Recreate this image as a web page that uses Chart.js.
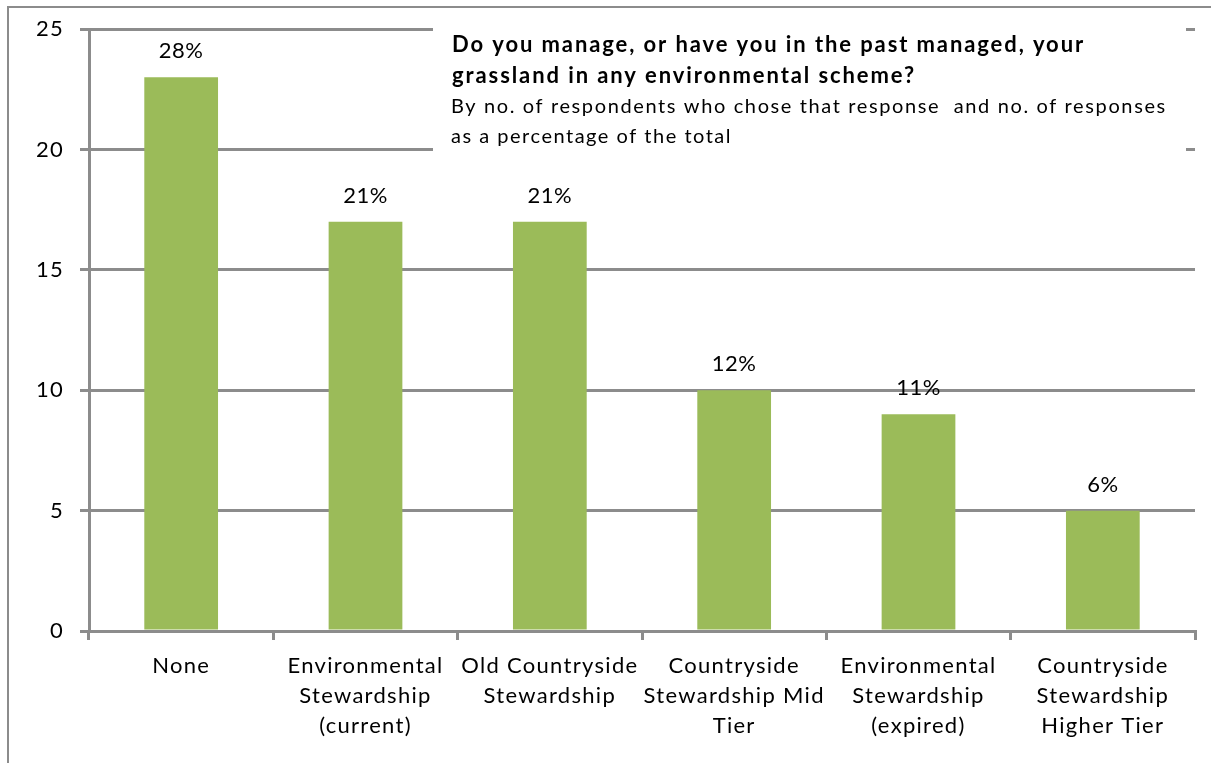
<!DOCTYPE html>
<html>
<head>
<meta charset="utf-8">
<script src="https://cdn.jsdelivr.net/npm/chart.js@4/dist/chart.umd.min.js"></script>
<style>
  body { margin: 0; background: #fff; }
  canvas { display: block; }
</style>
</head>
<body>
<canvas id="schemeChart" width="1211" height="763"></canvas>
<script>
  // chart data
  var categories = [
    ['None'],
    ['Environmental', 'Stewardship', '(current)'],
    ['Old Countryside', 'Stewardship'],
    ['Countryside', 'Stewardship Mid', 'Tier'],
    ['Environmental', 'Stewardship', '(expired)'],
    ['Countryside', 'Stewardship', 'Higher Tier']
  ];
  var respondents = [23, 17, 17, 10, 9, 5];
  var percentLabels = ['28%', '21%', '21%', '12%', '11%', '6%'];
  var yTicks = [0, 5, 10, 15, 20, 25];
  var titleLines = ['Do you manage, or have you in the past managed, your',
                    'grassland in any environmental scheme?'];
  var subtitleLines = ['By no. of respondents who chose that response  and no. of responses',
                       'as a percentage of the total'];

  var gridGrey = '#8c8c8c';
  var fontFamily = 'Lato, "Open Sans", sans-serif';

  // draws one line of text spread to a given width (the original font is wider than Lato)
  function fitText(ctx, text, x, y, width) {
    ctx.letterSpacing = '0px';
    var natural = ctx.measureText(text).width;
    ctx.letterSpacing = ((width - natural) / text.length).toFixed(2) + 'px';
    ctx.fillText(text, x, y);
    ctx.letterSpacing = '0px';
  }

  var extras = {
    id: 'extras',
    beforeDraw: function(chart) {
      // widen the axis labels a bit
      chart.ctx.letterSpacing = '1.3px';
    },
    afterDraw: function(chart) {
      var ctx = chart.ctx;
      ctx.save();

      // frame (only top and left edges show)
      ctx.strokeStyle = gridGrey;
      ctx.lineWidth = 2;
      ctx.beginPath();
      ctx.moveTo(8, 763);
      ctx.lineTo(8, 7);
      ctx.lineTo(1211, 7);
      ctx.stroke();

      // title box covers the upper gridlines
      ctx.fillStyle = '#fff';
      ctx.fillRect(433, 12, 753, 142);

      ctx.fillStyle = '#000';
      ctx.textAlign = 'left';
      ctx.textBaseline = 'alphabetic';
      ctx.font = 'bold 22px ' + fontFamily;
      fitText(ctx, titleLines[0], 452, 52, 633);
      fitText(ctx, titleLines[1], 452, 83, 464);
      ctx.font = '20px ' + fontFamily;
      fitText(ctx, subtitleLines[0], 451, 113, 716);
      fitText(ctx, subtitleLines[1], 451, 143, 281);

      // percentage labels above the bars
      var meta = chart.getDatasetMeta(0);
      ctx.font = '22px ' + fontFamily;
      ctx.textAlign = 'center';
      ctx.letterSpacing = '0.5px';
      meta.data.forEach(function(bar, i) {
        ctx.fillText(percentLabels[i], bar.x, bar.y - 19);
      });
      ctx.restore();
    }
  };

  var ctx = document.getElementById('schemeChart').getContext('2d');
  var schemeChart = new Chart(ctx, {
    type: 'bar',
    data: {
      labels: categories,
      datasets: [{
        data: respondents,
        backgroundColor: '#9bbb59',
        borderWidth: 0,
        categoryPercentage: 1,
        barPercentage: 0.4
      }]
    },
    options: {
      responsive: false,
      animation: false,
      layout: { padding: { top: 24, right: 16, left: 0, bottom: 0 } },
      plugins: {
        legend: { display: false },
        tooltip: { enabled: false }
      },
      scales: {
        x: {
          grid: {
            offset: true,
            drawOnChartArea: false,
            drawTicks: true,
            tickLength: 9,
            color: gridGrey,
            lineWidth: 3
          },
          border: { display: true, color: gridGrey, width: 3 },
          ticks: {
            color: '#000',
            padding: 11,
            maxRotation: 0,
            autoSkip: false,
            font: { family: fontFamily, size: 22, lineHeight: 1.36 }
          },
          afterFit: function(scale) { scale.height = 132; }
        },
        y: {
          min: 0,
          max: 25,
          afterBuildTicks: function(scale) {
            scale.ticks = yTicks.map(function(v) { return { value: v }; });
          },
          grid: {
            color: gridGrey,
            lineWidth: 3,
            tickLength: 9
          },
          border: { display: true, color: gridGrey, width: 3 },
          ticks: {
            color: '#000',
            padding: 16,
            font: { family: fontFamily, size: 22 }
          },
          afterFit: function(scale) { scale.width = 89; }
        }
      }
    },
    plugins: [extras]
  });
</script>
</body>
</html>
